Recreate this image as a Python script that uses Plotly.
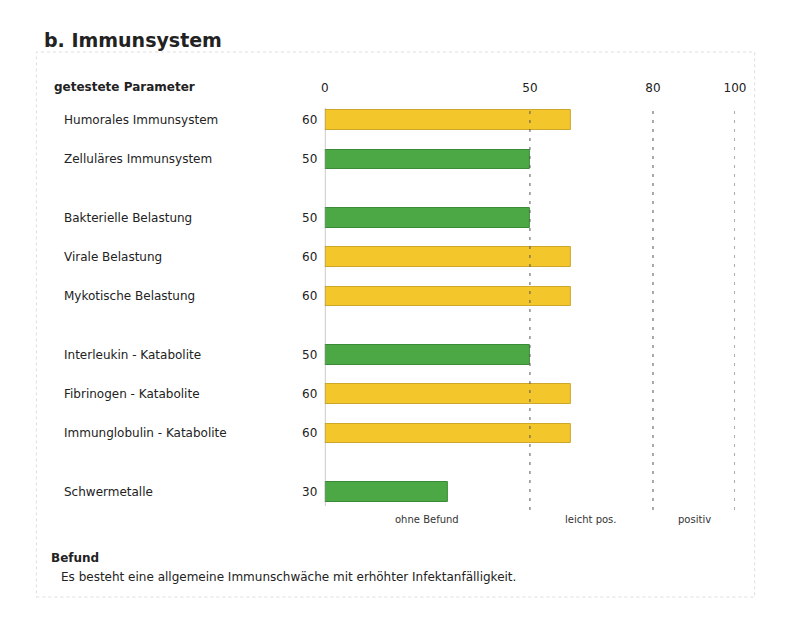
import plotly.graph_objects as go

# ---- data ----
groups = [
    ["Humorales Immunsystem", "Zelluläres Immunsystem"],
    ["Bakterielle Belastung", "Virale Belastung", "Mykotische Belastung"],
    ["Interleukin - Katabolite", "Fibrinogen - Katabolite", "Immunglobulin - Katabolite"],
    ["Schwermetalle"],
]
values = [60, 50, 50, 60, 60, 50, 60, 60, 30]
tick_vals = [0, 50, 80, 100]
zone_labels = ["ohne Befund", "leicht pos.", "positiv"]
zone_centers = [25, 65, 90]
title_text = "b. Immunsystem"
header_text = "getestete Parameter"
befund_title = "Befund"
befund_text = "Es besteht eine allgemeine Immunschwäche mit erhöhter Infektanfälligkeit."

YELLOW = "#F3C62C"
YELLOW_LINE = "#CDA62C"
GREEN = "#4CA845"
GREEN_LINE = "#3B8A38"

# row positions: groups separated by half-row gap
labels, ypos = [], []
p = 0.0
for g in groups:
    for name in g:
        labels.append(name)
        ypos.append(p)
        p += 1.0
    p += 0.5

colors = [YELLOW if v > 50 else GREEN for v in values]
lcolors = [YELLOW_LINE if v > 50 else GREEN_LINE for v in values]

W, H = 800, 626
FONT = "DejaVu Sans"

fig = go.Figure()
fig.add_trace(go.Bar(
    x=values, y=ypos, orientation="h", width=0.49,
    marker=dict(color=colors, line=dict(color=lcolors, width=1)),
    hoverinfo="skip", showlegend=False,
))

x0px, x1px = 327, 745
top_px, bot_px = 105, 510
fig.update_layout(
    width=W, height=H, margin=dict(l=0, r=0, t=0, b=0),
    paper_bgcolor="white", plot_bgcolor="rgba(0,0,0,0)",
    font=dict(family=FONT, color="#222222", size=12),
    xaxis=dict(domain=[x0px / W, x1px / W], range=[0, 100], side="top",
               tickvals=tick_vals, ticktext=[str(t) for t in tick_vals],
               showgrid=False, zeroline=False, showline=False, ticks="",
               ticklabelstandoff=10, tickfont=dict(size=12, color="#222222")),
    yaxis=dict(domain=[1 - bot_px / H, 1 - top_px / H],
               range=[9.5 + 18 / 39, -15 / 39], visible=False),
    bargap=0,
)

# vertical reference lines
fig.add_shape(type="line", xref="x", yref="paper", x0=0, x1=0,
              y0=1 - 506 / H, y1=1 - 108 / H, line=dict(color="#888888", width=1))
for t in tick_vals[1:]:
    fig.add_shape(type="line", xref="x", yref="paper", x0=t, x1=t,
                  y0=1 - 510 / H, y1=1 - 105 / H,
                  line=dict(color="#555555", width=1, dash="3px,6px"))

# faint frame
fig.add_shape(type="rect", xref="paper", yref="paper",
              x0=33 / W, x1=765 / W, y0=1 - 597 / H, y1=1 - 52 / H,
              line=dict(color="#dddddd", width=1, dash="dot"))

# row labels and values
for name, yp, v in zip(labels, ypos, values):
    fig.add_annotation(x=59 / W, xref="paper", y=yp, yref="y", text=name,
                       showarrow=False, xanchor="left", yanchor="middle",
                       font=dict(size=12, family=FONT, color="#222222"))
    fig.add_annotation(x=321 / W, xref="paper", y=yp, yref="y", text=str(v),
                       showarrow=False, xanchor="right", yanchor="middle",
                       font=dict(size=12, family=FONT, color="#222222"))

# zone labels
for lab, c in zip(zone_labels, zone_centers):
    fig.add_annotation(x=c, xref="x", y=1 - 519 / H, yref="paper", text=lab,
                       showarrow=False, xanchor="center", yanchor="middle",
                       font=dict(size=10, family=FONT, color="#333333"))

# title and headers
fig.add_annotation(x=39 / W, xref="paper", y=1 - 40 / H, yref="paper",
                   text="<b>" + title_text + "</b>", showarrow=False,
                   xanchor="left", yanchor="middle",
                   font=dict(size=19, family=FONT, color="#222222"))
fig.add_annotation(x=49 / W, xref="paper", y=1 - 87 / H, yref="paper",
                   text="<b>" + header_text + "</b>", showarrow=False,
                   xanchor="left", yanchor="middle",
                   font=dict(size=12, family=FONT, color="#222222"))
fig.add_annotation(x=46 / W, xref="paper", y=1 - 558 / H, yref="paper",
                   text="<b>" + befund_title + "</b>", showarrow=False,
                   xanchor="left", yanchor="middle",
                   font=dict(size=12, family=FONT, color="#222222"))
fig.add_annotation(x=56 / W, xref="paper", y=1 - 577 / H, yref="paper",
                   text=befund_text, showarrow=False,
                   xanchor="left", yanchor="middle",
                   font=dict(size=12, family=FONT, color="#222222"))

fig.write_html(
    "out.html",
    post_script="document.body.style.margin='0';document.body.style.overflow='hidden';",
)
